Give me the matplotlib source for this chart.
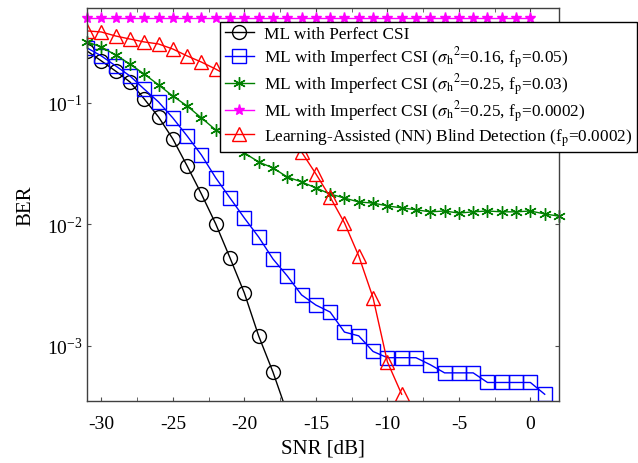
import numpy as np
import matplotlib
matplotlib.use('Agg')
import matplotlib.pyplot as plt
from matplotlib.ticker import MultipleLocator, LogLocator, NullLocator

plt.rcParams['font.family'] = ['Liberation Serif', 'DejaVu Serif']
plt.rcParams['mathtext.fontset'] = 'stix'
plt.rcParams['axes.unicode_minus'] = False

# SNR axis [dB]
snr_perfect = np.arange(-31, -16)          # -31 ... -17
snr_h016 = np.arange(-31, 2)               # -31 ... 1
snr_h025 = np.arange(-31, 3)               # -31 ... 2
snr_fp0002 = np.arange(-31, 1)             # -31 ... 0
snr_nn = np.arange(-31, -8)                # -31 ... -9

# BER values
ber_perfect = [0.268, 0.222, 0.183, 0.149, 0.108, 0.0767, 0.0506, 0.0303,
               0.0178, 0.0101, 0.0053, 0.00273, 0.00121, 0.00061, 0.00028]
ber_h016 = [0.284, 0.244, 0.202, 0.167, 0.130, 0.102, 0.0753, 0.0535, 0.0373,
            0.0242, 0.0165, 0.0113, 0.00788, 0.0052, 0.00377, 0.00263, 0.00217,
            0.0019, 0.0013, 0.00121, 0.0009, 0.0008, 0.0008, 0.0008, 0.0007,
            0.0006, 0.0006, 0.0006, 0.0005, 0.0005, 0.0005, 0.0005, 0.0004]
ber_h025 = [0.318, 0.289, 0.248, 0.209, 0.173, 0.141, 0.114, 0.0945, 0.0753,
            0.060, 0.0487, 0.0388, 0.0327, 0.0292, 0.0246, 0.0224, 0.020,
            0.0178, 0.0165, 0.0153, 0.0150, 0.0142, 0.0137, 0.0132, 0.0127,
            0.0129, 0.0124, 0.0127, 0.0129, 0.0127, 0.0127, 0.0129, 0.0122,
            0.0117]
ber_fp0002 = [0.5] * 32
ber_nn = [0.392, 0.384, 0.356, 0.336, 0.318, 0.306, 0.278, 0.244, 0.217,
          0.190, 0.164, 0.138, 0.112, 0.086, 0.061, 0.0395, 0.0261, 0.0168,
          0.0103, 0.0055, 0.00249, 0.00074, 0.0004]

labels = ['ML with Perfect CSI',
          r'ML with Imperfect CSI ($\sigma_{\mathrm{h}}{}^{2}$=0.16, f$_{\mathrm{p}}$=0.05)',
          r'ML with Imperfect CSI ($\sigma_{\mathrm{h}}{}^{2}$=0.25, f$_{\mathrm{p}}$=0.03)',
          r'ML with Imperfect CSI ($\sigma_{\mathrm{h}}{}^{2}$=0.25, f$_{\mathrm{p}}$=0.0002)',
          r'Learning-Assisted (NN) Blind Detection (f$_{\mathrm{p}}$=0.0002)']

fig = plt.figure(figsize=(6.38, 4.64), dpi=100)
ax = fig.add_axes([87/638, 1-402/464, (559-87)/638, (402-9)/464])

ax.semilogy(snr_perfect, ber_perfect, color='black', marker='o', ms=10,
            mfc='none', mew=1, lw=1, label=labels[0])
ax.semilogy(snr_h016, ber_h016, color='blue', marker='s', ms=10,
            mfc='none', mew=1, lw=1, label=labels[1])
ax.semilogy(snr_h025, ber_h025, color='green', marker=(6, 2, 0), ms=9,
            mew=1, lw=1, label=labels[2], clip_on=False)
ax.semilogy(snr_fp0002, ber_fp0002, color='magenta', marker='*', ms=8,
            mew=1, lw=1, label=labels[3], clip_on=False)
ax.semilogy(snr_nn, ber_nn, color='red', marker='^', ms=10,
            mfc='none', mew=1, lw=1, label=labels[4])

ax.set_xlim(-31, 2)
ax.set_ylim(3.52e-4, 0.605)
ax.xaxis.set_major_locator(MultipleLocator(5))
ax.xaxis.set_minor_locator(MultipleLocator(2.5))
ax.yaxis.set_major_locator(LogLocator(base=10, numticks=10))
ax.yaxis.set_minor_locator(NullLocator())
ax.tick_params(which='both', direction='in', top=True, right=True,
               labelsize=14, length=3, color='#505050')
ax.tick_params(axis='x', pad=10)
for sp in ax.spines.values():
    sp.set_color('#404040')
    sp.set_linewidth(1)

ax.set_xlabel('SNR [dB]', fontsize=15, labelpad=5)
ax.set_ylabel('BER', fontsize=15, labelpad=8)

leg = ax.legend(loc='upper right', bbox_to_anchor=(637/638, 1-23/464),
                bbox_transform=fig.transFigure, borderaxespad=0,
                fontsize=12.4, fancybox=False, framealpha=1, edgecolor='black',
                handlelength=1.7, handletextpad=0.6, labelspacing=0.1,
                borderpad=0.25)
leg.get_frame().set_linewidth(1)

fig.savefig('out.png', dpi=100)
